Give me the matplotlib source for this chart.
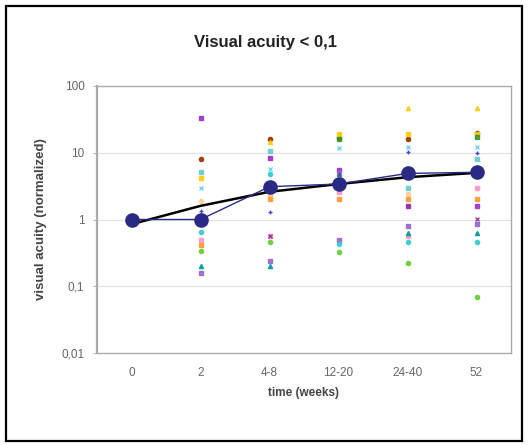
import matplotlib.pyplot as plt
from matplotlib.patches import Rectangle
from matplotlib.ticker import FixedLocator, NullLocator

plt.rcParams['font.family'] = ['Liberation Sans', 'DejaVu Sans']

categories = ['0', '2', '4-8', '12-20', '24-40', '52']

# individual patients (normalized visual acuity)
p01 = [1, 33, 8.3, 5.6, 1.6, 1.6]
p02 = [1, 8.0, 16.2, 16.6, 16.0, 20.0]
p03 = [1, 5.1, 10.8, 4.8, 2.95, 8.1]
p04 = [1, 4.2, 2.3, 19.3, 19.0, 19.0]
p05 = [1, 3.0, 5.7, 11.9, 12.0, 12.0]
p06 = [1, 1.9, 2.3, 2.6, 2.4, 3.0]
p07 = [1, 1.35, 1.29, 3.3, 10.2, 9.9]
p08 = [1, 0.5, 0.57, 2.6, 0.56, 3.0]
p09 = [1, 0.42, 2.05, 2.0, 2.05, 2.0]
p10 = [1, 0.34, 0.46, 0.33, 0.22, 0.07]
p11 = [1, 0.2, 0.2, 4.8, 0.63, 0.63]
p12 = [1, 0.16, 0.24, 0.5, 0.79, 0.86]
p13 = [1, 0.9, 14.4, 19.3, 47, 47]
p14 = [1, 0.65, 4.8, 0.43, 0.46, 0.46]
p15 = [1, 1.0, 2.9, 15.8, 5.8, 17.5]
p16 = [1, 1.0, 0.57, 4.8, 1.6, 1.02]

median = [1, 1, 3.1, 3.4, 4.9, 5.1]
trend = [0.85, 1.6, 2.6, 3.4, 4.3, 5.0]

patients = [p01, p02, p03, p04, p05, p06, p07, p08,
            p09, p10, p11, p12, p13, p14, p15, p16]
styles = [('#9933CC', 's'), ('#993300', 'o'), ('#66CCCC', 's'), ('#FFCC00', 's'),
          ('#66CCFF', 'x'), ('#FFCC99', 'o'), ('#3333CC', '+'), ('#FF99CC', 's'),
          ('#FF9933', 's'), ('#66CC33', 'o'), ('#009999', '^'), ('#9966CC', 's'),
          ('#FFCC00', '^'), ('#33CCCC', 'o'), ('#339933', 's'), ('#993399', 'x')]

fig = plt.figure(figsize=(5.28, 4.45), dpi=100)
fig.patches.append(Rectangle((0.012, 0.009), 0.976, 0.978, transform=fig.transFigure,
                             fill=False, edgecolor='black', linewidth=1.6))
ax = fig.add_axes([97 / 528, 1 - 353 / 445, 414 / 528, 267 / 445])

x = [i + 0.5 for i in range(len(categories))]

for vals, (col, mk) in zip(patients, styles):
    ax.plot(x, vals, linestyle='none', marker=mk, color=col, markersize=3.0,
            markeredgewidth=1.0, alpha=0.9, zorder=3)

ax.plot(x, trend, color='black', linewidth=1.8, zorder=4)
ax.plot(x, median, color='#2A2A85', linewidth=1.0, marker='o', markersize=9.5, zorder=5)

ax.set_yscale('log')
ax.set_ylim(0.01, 100)
ax.set_xlim(0, 6)
ax.yaxis.set_major_locator(FixedLocator([0.01, 0.1, 1, 10, 100]))
ax.yaxis.set_minor_locator(NullLocator())
ax.set_yticklabels(['0,01', '0,1', '1', '10', '100'])
ax.set_xticks(x)
ax.set_xticklabels(categories)
ax.tick_params(axis='x', length=0, pad=10, labelsize=8.5, colors='#666666')
ax.tick_params(axis='y', length=3, pad=6, labelsize=8.5, colors='#BBBBBB', labelcolor='#666666')
ax.grid(axis='y', color='#E2E2E2', linewidth=0.8)
for s in ax.spines.values():
    s.set_color('#AAAAAA')
    s.set_linewidth(1.0)
ax.spines['left'].set_linewidth(1.6)

ax.set_xlabel('time (weeks)', fontsize=8.5, fontweight='bold', color='#444444', labelpad=6)
ax.set_ylabel('visual acuity (normalized)', fontsize=9.5, fontweight='bold', color='#444444',
              labelpad=10)
fig.text(265 / 528, 1 - 42 / 445, 'Visual acuity < 0,1', ha='center', va='center',
         fontsize=12, fontweight='bold', color='#222222')

fig.savefig('out.png', dpi=100)
